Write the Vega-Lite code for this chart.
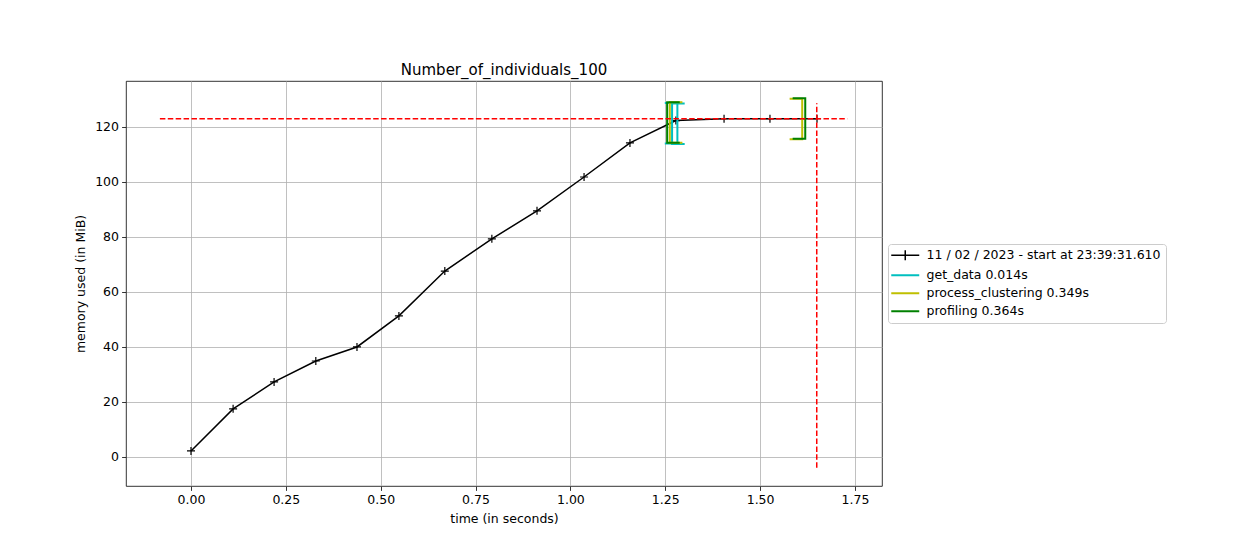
{
  "$schema": "https://vega.github.io/schema/vega-lite/v6.json",
  "width": 756,
  "height": 405,
  "autosize": {"type": "none"},
  "padding": {"left": 126, "top": 81, "right": 378, "bottom": 54},
  "background": "white",
  "title": {"text": "Number_of_individuals_100", "fontSize": 15, "font": "DejaVu Sans", "fontWeight": "normal", "offset": 3.5, "color": "black"},
  "config": {
    "font": "DejaVu Sans",
    "view": {"stroke": "black", "strokeWidth": 0.8},
    "axis": {
      "domain": false,
      "grid": true,
      "gridColor": "#b0b0b0",
      "gridWidth": 0.8,
      "tickColor": "black",
      "tickSize": 4.4,
      "tickWidth": 0.8,
      "labelFont": "DejaVu Sans",
      "labelFontSize": 12.5,
      "labelColor": "black",
      "labelPadding": 3.1,
      "titleFont": "DejaVu Sans",
      "titleFontSize": 12.5,
      "titleFontWeight": "normal",
      "titleColor": "black"
    },
    "legend": {
      "orient": "none",
      "legendX": 762,
      "legendY": 163,
      "labelFont": "DejaVu Sans",
      "labelFontSize": 12.5,
      "labelColor": "black",
      "labelLimit": 400,
      "labelOffset": 21,
      "symbolSize": 196,
      "symbolStrokeWidth": 2,
      "padding": 5,
      "rowPadding": 5,
      "strokeColor": "#cccccc",
      "cornerRadius": 3,
      "fillColor": "white"
    }
  },
  "datasets": {
    "main": [
      {"series": "11 / 02 / 2023 - start at 23:39:31.610", "i": 0, "t": 0.0, "mem": 2.2},
      {"series": "11 / 02 / 2023 - start at 23:39:31.610", "i": 1, "t": 0.111, "mem": 17.5},
      {"series": "11 / 02 / 2023 - start at 23:39:31.610", "i": 2, "t": 0.219, "mem": 27.3},
      {"series": "11 / 02 / 2023 - start at 23:39:31.610", "i": 3, "t": 0.329, "mem": 34.9},
      {"series": "11 / 02 / 2023 - start at 23:39:31.610", "i": 4, "t": 0.4375, "mem": 40.0},
      {"series": "11 / 02 / 2023 - start at 23:39:31.610", "i": 5, "t": 0.548, "mem": 51.3},
      {"series": "11 / 02 / 2023 - start at 23:39:31.610", "i": 6, "t": 0.669, "mem": 67.6},
      {"series": "11 / 02 / 2023 - start at 23:39:31.610", "i": 7, "t": 0.793, "mem": 79.3},
      {"series": "11 / 02 / 2023 - start at 23:39:31.610", "i": 8, "t": 0.912, "mem": 89.5},
      {"series": "11 / 02 / 2023 - start at 23:39:31.610", "i": 9, "t": 1.036, "mem": 101.8},
      {"series": "11 / 02 / 2023 - start at 23:39:31.610", "i": 10, "t": 1.157, "mem": 114.2},
      {"series": "11 / 02 / 2023 - start at 23:39:31.610", "i": 11, "t": 1.278, "mem": 122.3},
      {"series": "11 / 02 / 2023 - start at 23:39:31.610", "i": 12, "t": 1.405, "mem": 123.0},
      {"series": "11 / 02 / 2023 - start at 23:39:31.610", "i": 13, "t": 1.526, "mem": 123.0},
      {"series": "11 / 02 / 2023 - start at 23:39:31.610", "i": 14, "t": 1.650, "mem": 123.0}
    ],
    "brackets": [
      {"series": "get_data 0.014s", "b": "1gL", "i": 0, "t": 1.3012, "mem": 128.56},
      {"series": "get_data 0.014s", "b": "1gL", "i": 1, "t": 1.268, "mem": 128.56},
      {"series": "get_data 0.014s", "b": "1gL", "i": 2, "t": 1.268, "mem": 113.84},
      {"series": "get_data 0.014s", "b": "1gL", "i": 3, "t": 1.3012, "mem": 113.84},
      {"series": "get_data 0.014s", "b": "1gR", "i": 0, "t": 1.2488, "mem": 128.66},
      {"series": "get_data 0.014s", "b": "1gR", "i": 1, "t": 1.282, "mem": 128.66},
      {"series": "get_data 0.014s", "b": "1gR", "i": 2, "t": 1.282, "mem": 113.94},
      {"series": "get_data 0.014s", "b": "1gR", "i": 3, "t": 1.2488, "mem": 113.94},
      {"series": "process_clustering 0.349s", "b": "2pL", "i": 0, "t": 1.2952, "mem": 128.96},
      {"series": "process_clustering 0.349s", "b": "2pL", "i": 1, "t": 1.262, "mem": 128.96},
      {"series": "process_clustering 0.349s", "b": "2pL", "i": 2, "t": 1.262, "mem": 114.24},
      {"series": "process_clustering 0.349s", "b": "2pL", "i": 3, "t": 1.2952, "mem": 114.24},
      {"series": "process_clustering 0.349s", "b": "2pR", "i": 0, "t": 1.5778, "mem": 130.26},
      {"series": "process_clustering 0.349s", "b": "2pR", "i": 1, "t": 1.611, "mem": 130.26},
      {"series": "process_clustering 0.349s", "b": "2pR", "i": 2, "t": 1.611, "mem": 115.54},
      {"series": "process_clustering 0.349s", "b": "2pR", "i": 3, "t": 1.5778, "mem": 115.54},
      {"series": "profiling 0.364s", "b": "3fL", "i": 0, "t": 1.2882, "mem": 128.96},
      {"series": "profiling 0.364s", "b": "3fL", "i": 1, "t": 1.255, "mem": 128.96},
      {"series": "profiling 0.364s", "b": "3fL", "i": 2, "t": 1.255, "mem": 114.24},
      {"series": "profiling 0.364s", "b": "3fL", "i": 3, "t": 1.2882, "mem": 114.24},
      {"series": "profiling 0.364s", "b": "3fR", "i": 0, "t": 1.5858, "mem": 130.46},
      {"series": "profiling 0.364s", "b": "3fR", "i": 1, "t": 1.619, "mem": 130.46},
      {"series": "profiling 0.364s", "b": "3fR", "i": 2, "t": 1.619, "mem": 115.74},
      {"series": "profiling 0.364s", "b": "3fR", "i": 3, "t": 1.5858, "mem": 115.74}
    ]
  },
  "layer": [
    {
      "data": {"name": "main"},
      "mark": {"type": "line", "strokeWidth": 1.5},
      "encoding": {
        "x": {"field": "t", "type": "quantitative", "title": "time (in seconds)",
              "scale": {"domain": [-0.1713, 1.8213], "nice": false, "zero": false},
              "axis": {"values": [0, 0.25, 0.5, 0.75, 1.0, 1.25, 1.5, 1.75], "format": ".2f", "titlePadding": 6}},
        "y": {"field": "mem", "type": "quantitative", "title": "memory used (in MiB)",
              "scale": {"domain": [-10.55, 136.7], "nice": false, "zero": false},
              "axis": {"values": [0, 20, 40, 60, 80, 100, 120], "titlePadding": 7.5}},
        "order": {"field": "i", "type": "quantitative"},
        "color": {"field": "series", "type": "nominal",
                  "scale": {"domain": ["11 / 02 / 2023 - start at 23:39:31.610", "get_data 0.014s", "process_clustering 0.349s", "profiling 0.364s"],
                            "range": ["#000000", "#00bfbf", "#bfbf00", "#008000"]},
                  "legend": {"title": null,
                             "encode": {"symbols": {"update": {
                               "shape": {"signal": "datum.value === '11 / 02 / 2023 - start at 23:39:31.610' ? 'M-1.143,0L2.857,0M0.857,-0.714L0.857,0.714' : 'M-1.143,0L2.857,0'"},
                               "strokeWidth": {"signal": "datum.value === '11 / 02 / 2023 - start at 23:39:31.610' ? 1.5 : 2"}}}}}}
      }
    },
    {
      "data": {"name": "main"},
      "mark": {"type": "point", "shape": "M-1,0L1,0M0,-1L0,1", "filled": false, "color": "black", "size": 64, "strokeWidth": 1.2, "opacity": 1},
      "encoding": {
        "x": {"field": "t", "type": "quantitative"},
        "y": {"field": "mem", "type": "quantitative"}
      }
    },
    {
      "data": {"name": "brackets"},
      "mark": {"type": "line", "strokeWidth": 2},
      "encoding": {
        "x": {"field": "t", "type": "quantitative"},
        "y": {"field": "mem", "type": "quantitative"},
        "detail": {"field": "b", "type": "nominal"},
        "order": {"field": "i", "type": "quantitative"},
        "color": {"field": "series", "type": "nominal"}
      }
    },
    {
      "data": {"values": [{"t": -0.082, "t2": 1.730, "mem": 122.95}]},
      "mark": {"type": "rule", "color": "#ff0000", "strokeWidth": 1.5, "strokeDash": [5.5, 2.4]},
      "encoding": {
        "x": {"field": "t", "type": "quantitative"},
        "x2": {"field": "t2"},
        "y": {"field": "mem", "type": "quantitative"}
      }
    },
    {
      "data": {"values": [{"t": 1.6493, "mem": -3.9, "mem2": 128.6}]},
      "mark": {"type": "rule", "color": "#ff0000", "strokeWidth": 1.5, "strokeDash": [5.5, 2.4]},
      "encoding": {
        "x": {"field": "t", "type": "quantitative"},
        "y": {"field": "mem", "type": "quantitative"},
        "y2": {"field": "mem2"}
      }
    }
  ]
}
